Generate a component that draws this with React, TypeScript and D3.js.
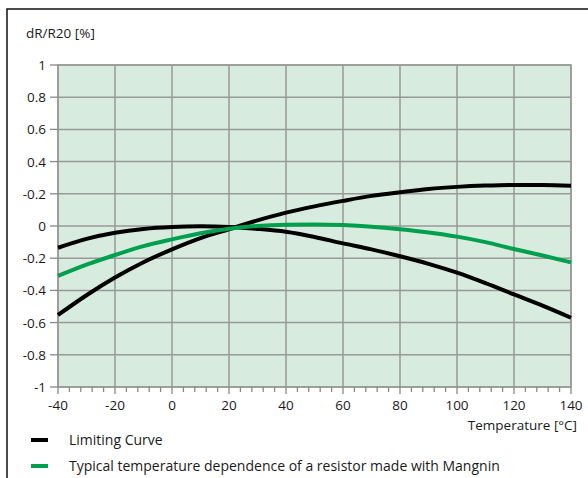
import React from "react";
import * as d3 from "d3";

const temps = [-40, -30, -20, -10, 0, 10, 20, 30, 40, 50, 60, 70, 80, 90, 100, 110, 120, 130, 140];
const limitUpper = [-0.135, -0.08, -0.042, -0.018, -0.006, -0.002, -0.006, -0.018, -0.036, -0.068, -0.108, -0.145, -0.188, -0.235, -0.29, -0.355, -0.425, -0.495, -0.57];
const limitLower = [-0.553, -0.43, -0.32, -0.225, -0.145, -0.075, -0.02, 0.035, 0.083, 0.122, 0.156, 0.187, 0.21, 0.23, 0.243, 0.251, 0.255, 0.254, 0.25];
const manganin = [-0.31, -0.24, -0.18, -0.125, -0.083, -0.045, -0.017, 0.0, 0.008, 0.01, 0.006, -0.004, -0.02, -0.04, -0.066, -0.1, -0.143, -0.183, -0.226];

const xTicks = [-40, -20, 0, 20, 40, 60, 80, 100, 120, 140];
const yTicks = [1, 0.8, 0.6, 0.4, 0.2, 0, -0.2, -0.4, -0.6, -0.8, -1];
const yTickLabels = ["1", "0.8", "0.6", "0.4", "-0.2", "0", "-0.2", "-0.4", "-0.6", "-0.8", "-1"];
const legendLabels = ["Limiting Curve", "Typical temperature dependence of a resistor made with Mangnin"];

const W = 588, H = 478;
const left = 58, right = 571, top = 65, bottom = 387;
const FONT = "'Open Sans', sans-serif";

export default function App() {
  const x = d3.scaleLinear().domain([-40, 140]).range([left, right]);
  const y = d3.scaleLinear().domain([-1, 1]).range([bottom, top]);
  const line = d3.line<number>()
    .x((_, i) => x(temps[i]))
    .y((d) => y(d))
    .curve(d3.curveMonotoneX);
  const minor = d3.range(-40, 140.1, 4);
  return (
    <svg width={W} height={H} style={{ position: "absolute", left: 0, top: 0 }} fontFamily={FONT}>
      <rect x={0} y={0} width={W} height={H} fill="#fff" />
      <path d={`M7,${H + 5}V9H${W + 5}`} fill="none" stroke="#111" strokeWidth={1.5} />
      <rect x={left} y={top} width={right - left} height={bottom - top} fill="#d7ebdf" />
      {xTicks.map((t) => (
        <line key={"gx" + t} x1={x(t)} x2={x(t)} y1={top} y2={bottom} stroke="#999" strokeWidth={1.5} />
      ))}
      {yTicks.map((t) => (
        <line key={"gy" + t} x1={left} x2={right} y1={y(t)} y2={y(t)} stroke="#999" strokeWidth={1.5} />
      ))}
      <rect x={left} y={top} width={right - left} height={bottom - top} fill="none" stroke="#999" strokeWidth={1.5} />
      {yTicks.map((t, i) => (
        <g key={"yt" + t}>
          <line x1={left - 8} x2={left} y1={y(t)} y2={y(t)} stroke="#888" strokeWidth={1.3} />
          <text x={46} y={y(t) + 5} textAnchor="end" fontSize={13.5} fill="#1a1a1a">{yTickLabels[i]}</text>
        </g>
      ))}
      {minor.map((t) => (
        <line key={"mx" + t} x1={x(t)} x2={x(t)} y1={bottom} y2={bottom + (t % 20 === 0 ? 7 : 5)} stroke="#888" strokeWidth={1.3} />
      ))}
      {xTicks.map((t) => (
        <text key={"xt" + t} x={x(t)} y={410} textAnchor="middle" fontSize={13.5} fill="#1a1a1a">{t}</text>
      ))}
      <text x={577} y={430} textAnchor="end" fontSize={13.5} fill="#1a1a1a">Temperature [°C]</text>
      <text x={26} y={38} fontSize={13.5} fill="#1a1a1a">dR/R20 [%]</text>
      <g>
        <path d={line(limitUpper) || ""} fill="none" stroke="#000" strokeWidth={4} />
        <path d={line(limitLower) || ""} fill="none" stroke="#000" strokeWidth={4} />
        <path d={line(manganin) || ""} fill="none" stroke="#00a04e" strokeWidth={4} />
      </g>
      <line x1={31} x2={48} y1={440} y2={440} stroke="#000" strokeWidth={4} />
      <text x={69} y={445} fontSize={14} fill="#1a1a1a">{legendLabels[0]}</text>
      <line x1={31} x2={48} y1={466} y2={466} stroke="#00a04e" strokeWidth={4} />
      <text x={69} y={471} fontSize={14} fill="#1a1a1a">{legendLabels[1]}</text>
    </svg>
  );
}
